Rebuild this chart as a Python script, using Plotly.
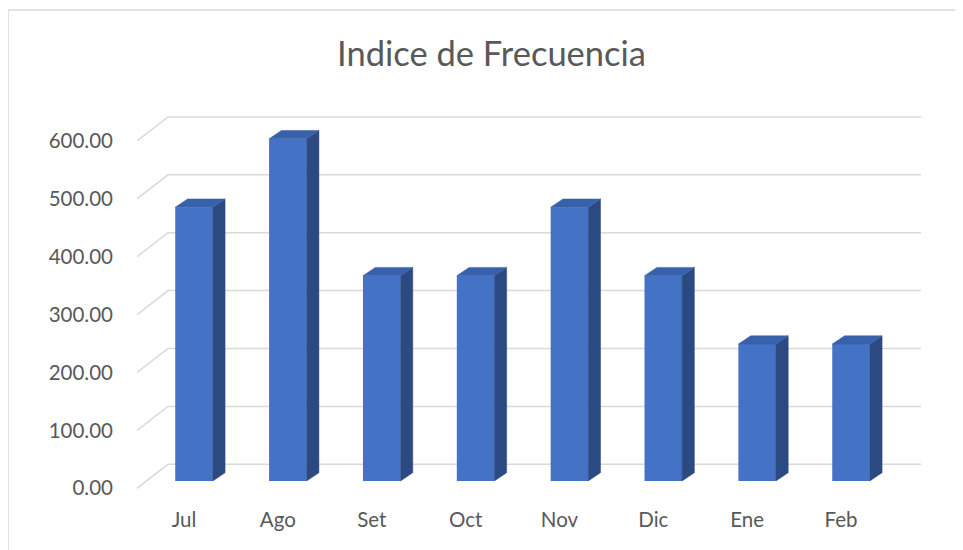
import plotly.graph_objects as go

# ---- data ----
categories = ["Jul", "Ago", "Set", "Oct", "Nov", "Dic", "Ene", "Feb"]
values = [472.8, 591.0, 354.6, 354.6, 472.8, 354.6, 236.4, 236.4]
y_ticks = [0, 100, 200, 300, 400, 500, 600]
y_tick_labels = [f"{v:.2f}" for v in y_ticks]
title_text = "Indice de Frecuencia"

# ---- geometry (pseudo 3-D, Excel style) ----
OFF = 8                                   # page body margin compensation
W, H = 963 - OFF, 550 - OFF
L, R, T, B = 137 - OFF, 921 - OFF, 100 - OFF, 500 - OFF   # plot area in pixels
px_per_x = 93.86
px_per_y = 0.579
base_px = 481 - OFF                       # pixel row of bar base plane
x0 = (L - (194 - OFF)) / px_per_x
x1 = x0 + (R - L) / px_per_x
y0 = -(B - base_px) / px_per_y
y1 = (base_px - T) / px_per_y

bar_w = 0.40
dep_x = 12.3 / px_per_x
dep_y = 8.3 / px_per_y
grid_front = -7.3 / px_per_y
grid_back = 16.7 / px_per_y
grid_dx = 31 / px_per_x
label_shift = -10 / px_per_x

front_col = "#4472C4"
side_col = "#2C4A82"
top_col = "#3861AB"
grid_col = "#D9D9D9"
text_col = "#595959"
font_family = "Lato, 'Open Sans', sans-serif"

fig = go.Figure()

# side faces
sx, sy = [], []
for i, v in enumerate(values):
    xr = i + bar_w / 2
    sx += [xr, xr + dep_x, xr + dep_x, xr, xr, None]
    sy += [0, dep_y, v + dep_y, v, 0, None]
fig.add_trace(go.Scatter(x=sx, y=sy, mode="lines", fill="toself",
                         fillcolor=side_col, line=dict(color=side_col, width=0.5),
                         hoverinfo="skip", showlegend=False))

# top faces
tx, ty = [], []
for i, v in enumerate(values):
    xl, xr = i - bar_w / 2, i + bar_w / 2
    tx += [xl, xr, xr + dep_x, xl + dep_x, xl, None]
    ty += [v, v, v + dep_y, v + dep_y, v, None]
fig.add_trace(go.Scatter(x=tx, y=ty, mode="lines", fill="toself",
                         fillcolor=top_col, line=dict(color=top_col, width=0.5),
                         hoverinfo="skip", showlegend=False))

# front faces
fig.add_trace(go.Bar(x=list(range(len(categories))), y=values, width=bar_w,
                     marker=dict(color=front_col, line=dict(width=0)),
                     showlegend=False, hovertext=categories))

# gridlines (floor slant + back wall), drawn beneath the bars
shapes = []
for v in y_ticks:
    path = (f"M {x0},{v + grid_front} L {x0 + grid_dx},{v + grid_back} "
            f"L {x1},{v + grid_back}")
    shapes.append(dict(type="path", xref="x", yref="y", path=path,
                       line=dict(color=grid_col, width=1.5), layer="below"))

# chart-area border
shapes.append(dict(type="rect", xref="paper", yref="paper",
                   x0=(0 - L) / (R - L), x1=(W + 20 - L) / (R - L),
                   y0=(B - (H + 20)) / (B - T), y1=(B - 2) / (B - T),
                   line=dict(color=grid_col, width=1.5),
                   fillcolor="rgba(0,0,0,0)", layer="below"))

fig.update_layout(
    width=W, height=H,
    margin=dict(l=L, r=W - R, t=T, b=H - B),
    paper_bgcolor="white", plot_bgcolor="white",
    font=dict(family=font_family, color=text_col, size=20.5),
    title=dict(text=title_text, x=(491.5 - OFF) / W, xref="container",
               xanchor="center", y=1 - (54 - OFF) / H, yref="container",
               yanchor="middle",
               font=dict(size=34.5, color=text_col, family=font_family)),
    xaxis=dict(range=[x0, x1], showgrid=False, zeroline=False, showline=False,
               tickmode="array",
               tickvals=[i + label_shift for i in range(len(categories))],
               ticktext=categories, ticks="outside", ticklen=1,
               tickcolor="rgba(0,0,0,0)", tickfont=dict(size=20.5)),
    yaxis=dict(range=[y0, y1], showgrid=False, zeroline=False, showline=False,
               tickmode="array",
               tickvals=[v + grid_front for v in y_ticks],
               ticktext=y_tick_labels, ticklabelstandoff=23,
               tickfont=dict(size=20.5)),
    shapes=shapes,
)

fig.write_html("out.html")
